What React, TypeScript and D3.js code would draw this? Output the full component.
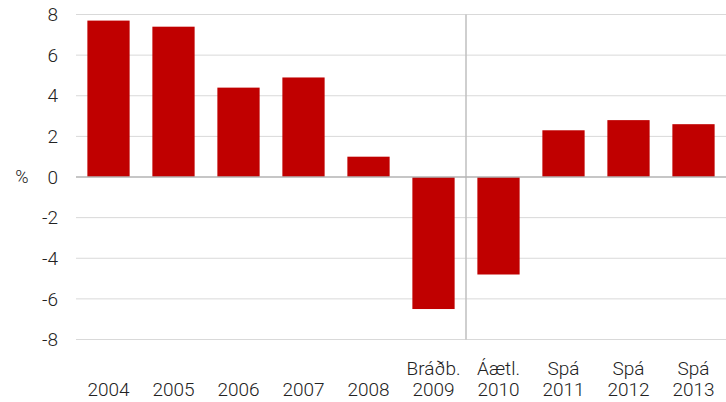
import { useEffect, useRef } from "react";
import * as d3 from "d3";

const width = 726;
const height = 402;
const margin = { top: 14.5, right: 0, bottom: 62.5, left: 76 };

const prefixes = ["", "", "", "", "", "Bráðb.", "Áætl.", "Spá", "Spá", "Spá"];
const years = ["2004", "2005", "2006", "2007", "2008", "2009", "2010", "2011", "2012", "2013"];
const values = [7.7, 7.4, 4.4, 4.9, 1.0, -6.5, -4.8, 2.3, 2.8, 2.6];
const yTicks = [8, 6, 4, 2, 0, -2, -4, -6, -8];

const font = "Roboto, 'DejaVu Sans', sans-serif";

export default function App() {
  const ref = useRef<SVGSVGElement>(null);

  useEffect(() => {
    const svg = d3.select(ref.current);
    svg.selectAll("*").remove();

    const x = d3
      .scaleBand()
      .domain(years)
      .range([margin.left, width - margin.right])
      .paddingInner(0.35)
      .paddingOuter(0.175);
    const y = d3
      .scaleLinear()
      .domain([-8, 8])
      .range([height - margin.bottom, margin.top]);

    // gridlines
    svg
      .append("g")
      .selectAll("line")
      .data(yTicks.filter((d) => d !== 0))
      .join("line")
      .attr("x1", margin.left)
      .attr("x2", width - margin.right)
      .attr("y1", (d) => y(d))
      .attr("y2", (d) => y(d))
      .attr("stroke", "#d9d9d9")
      .attr("stroke-width", 1);

    // separator between 2009 and 2010
    const sepX = margin.left + x.step() * 6;
    svg
      .append("line")
      .attr("x1", sepX)
      .attr("x2", sepX)
      .attr("y1", y(8))
      .attr("y2", y(-8))
      .attr("stroke", "#bfbfbf")
      .attr("stroke-width", 1.5);

    // bars
    svg
      .append("g")
      .selectAll("rect")
      .data(values)
      .join("rect")
      .attr("x", (d, i) => x(years[i]) as number)
      .attr("width", x.bandwidth())
      .attr("y", (d) => y(Math.max(0, d)))
      .attr("height", (d) => Math.abs(y(d) - y(0)))
      .attr("fill", "#c00000");

    // zero line
    svg
      .append("line")
      .attr("x1", margin.left)
      .attr("x2", width - margin.right)
      .attr("y1", y(0))
      .attr("y2", y(0))
      .attr("stroke", "#b3b3b3")
      .attr("stroke-width", 1.5);

    // y tick labels
    svg
      .append("g")
      .selectAll("text")
      .data(yTicks)
      .join("text")
      .attr("x", 58)
      .attr("y", (d) => y(d))
      .attr("dy", "0.35em")
      .attr("text-anchor", "end")
      .attr("font-family", font)
      .attr("font-size", 19)
      .attr("font-weight", 300)
      .attr("fill", "#222")
      .text((d) => d);

    svg
      .append("text")
      .attr("x", 22)
      .attr("y", y(0))
      .attr("dy", "0.35em")
      .attr("text-anchor", "middle")
      .attr("font-family", font)
      .attr("font-size", 18)
      .attr("font-weight", 300)
      .attr("fill", "#222")
      .text("%");

    // x labels
    const xl = svg
      .append("g")
      .selectAll("g")
      .data(years)
      .join("g")
      .attr("transform", (d) => `translate(${(x(d) as number) + x.bandwidth() / 2},0)`);
    xl.append("text")
      .attr("y", 375)
      .attr("text-anchor", "middle")
      .attr("font-family", font)
      .attr("font-size", 19)
      .attr("font-weight", 300)
      .attr("fill", "#222")
      .text((d, i) => prefixes[i]);
    xl.append("text")
      .attr("y", 396)
      .attr("text-anchor", "middle")
      .attr("font-family", font)
      .attr("font-size", 19)
      .attr("font-weight", 300)
      .attr("fill", "#222")
      .text((d) => d);
  }, []);

  return (
    <svg
      ref={ref}
      width={width}
      height={height}
      style={{ position: "absolute", left: 0, top: 0 }}
    />
  );
}
